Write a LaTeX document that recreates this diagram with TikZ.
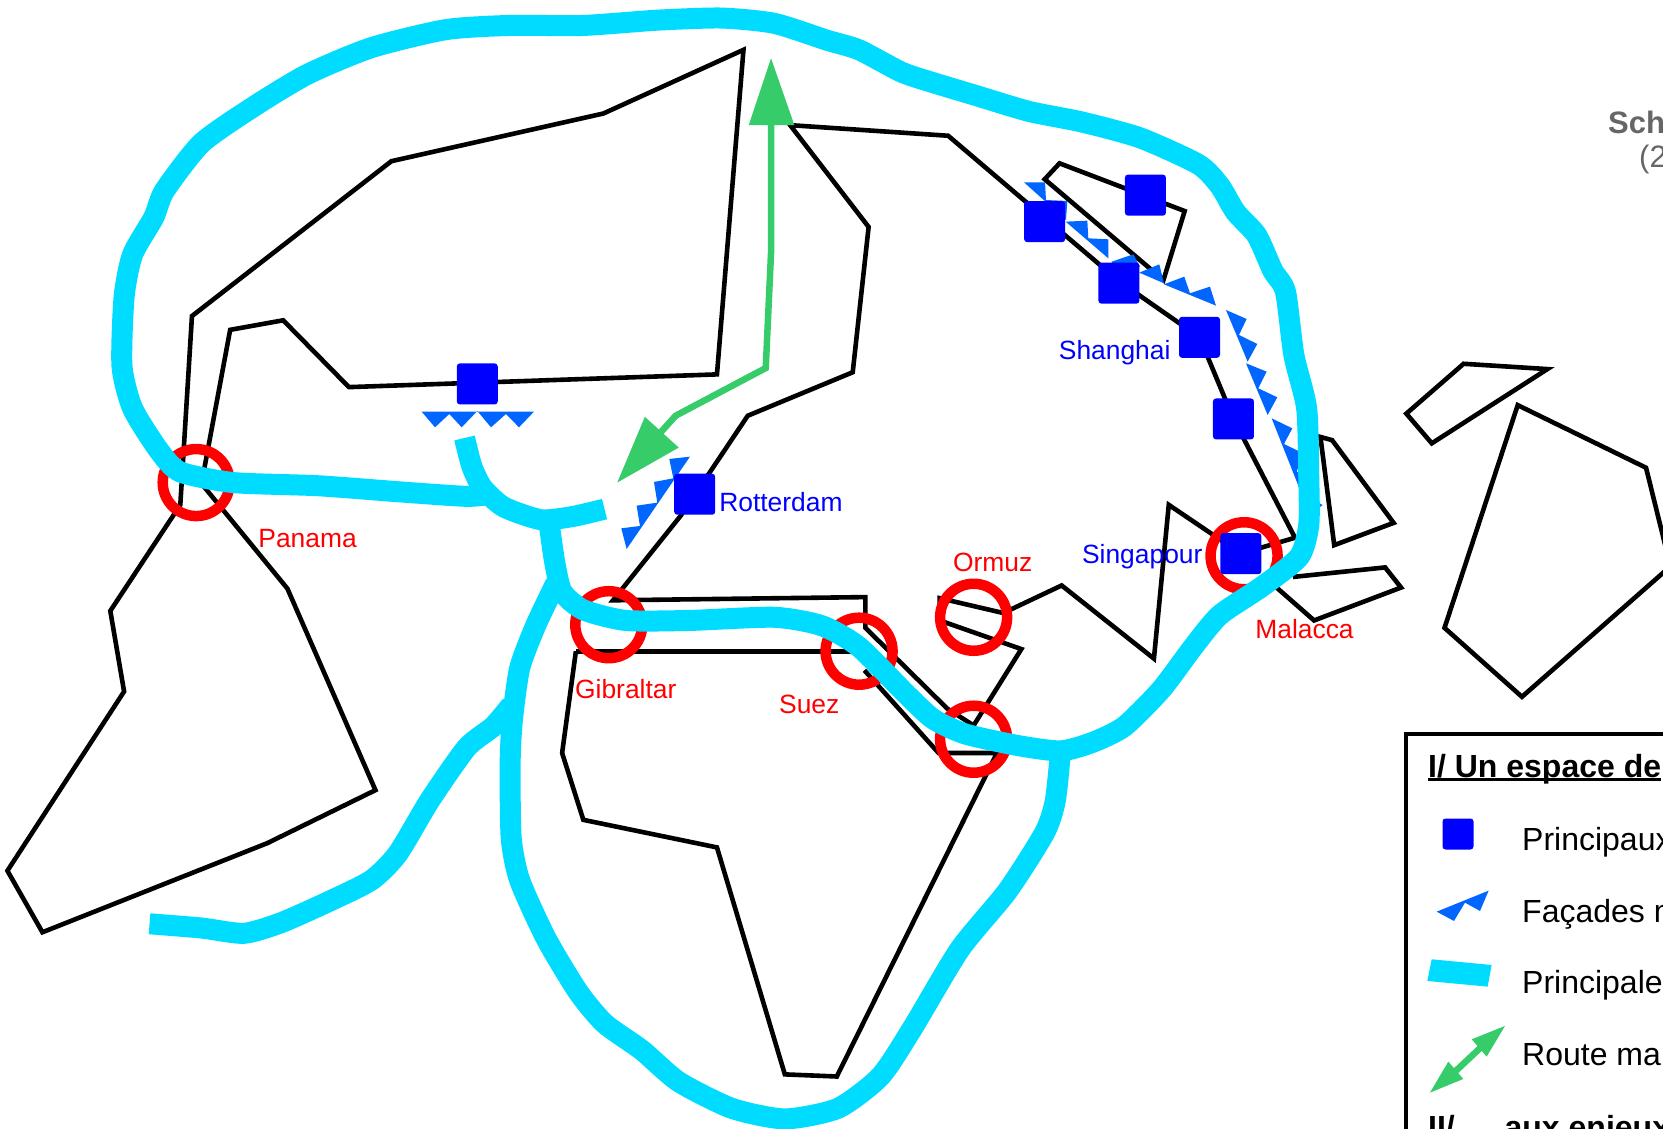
\documentclass[tikz,border=0pt]{standalone}
\usepackage{fontspec}
\setmainfont{Liberation Sans}
\definecolor{route}{RGB}{0,220,255}
\definecolor{facade}{RGB}{0,102,255}
\definecolor{seagreen}{RGB}{54,204,106}
\definecolor{port}{RGB}{0,0,255}
\definecolor{strait}{RGB}{255,0,0}
\definecolor{titlegrey}{RGB}{102,102,102}
\newcommand\ulbold[1]{\setbox0\hbox{#1}\rlap{\rule[-3.6pt]{\wd0}{2.4pt}}#1}
\tikzset{
  land/.style={draw=black,line width=4.6pt,miter limit=10},
  routeline/.style={draw=route,line width=21pt},
  facadeshape/.style={fill=facade},
  greenhead/.style={fill=seagreen},
  greenline/.style={draw=seagreen,line width=6.5pt},
  portbox/.style={fill=port,minimum size=41pt,inner sep=0pt,rounded corners=3pt},
  straitring/.style={draw=strait,line width=10.5pt},
  portlabel/.style={text=port,font=\fontsize{26.4}{30}\selectfont,inner sep=0pt},
  straitlabel/.style={text=strait,font=\fontsize{26.4}{30}\selectfont,inner sep=0pt},
  legendtext/.style={anchor=base west,inner sep=0pt,font=\fontsize{32}{38}\selectfont},
  legendhead/.style={anchor=base west,inner sep=0pt,font=\fontsize{32}{38}\selectfont\bfseries},
  titletext/.style={anchor=base west,inner sep=0pt,text=titlegrey,font=\fontsize{31}{36}\selectfont},
}
\begin{document}
\begin{tikzpicture}[x=1.0606pt,y=-1.0606pt]
\useasboundingbox (0,0) rectangle (1568,1063.6);
\clip (0,0) rectangle (1568,1063.6);
\fill[white] (0,0) rectangle (1568,1063.6);

% Land masses
\draw[land] (701,47) -- (569,107) -- (369,152) -- (181,298) -- (170,476) -- (104,576) -- (117,652) -- (7,821) -- (40,879) -- (252,795) -- (354,745) -- (271,555) -- (190,456) -- (217,311) -- (267,302) -- (329,365) -- (676,353) -- cycle;
\draw[land] (745,118) -- (894,128) -- (1055,265) -- (1131,318) -- (1163,395) -- (1221,507) -- (1170,522) -- (1102,476) -- (1088,621) -- (1001,552) -- (946,578) -- (886,564) -- (886,585) -- (963,612) -- (918,684) -- (893,668) -- (816,592) -- (816,563) -- (578,566) -- (642,486) -- (705,392) -- (804,351) -- (819,214) -- cycle;
\draw[land] (543,614) -- (816,614);
\draw[land] (543,614) -- (530,710) -- (550,773) -- (676,799) -- (740,1013) -- (789,1015) -- (940,710) -- (885,710) -- (815,632);
\draw[land] (985,169) -- (999,154) -- (1117,199) -- (1097,264) -- cycle;
\draw[land] (1326,390) -- (1380,343) -- (1459,348) -- (1350,418) -- cycle;
\draw[land] (1245,412) -- (1256,415) -- (1314,493) -- (1258,514) -- cycle;
\draw[land] (1219,544) -- (1306,535) -- (1321,554) -- (1239,585) -- (1190,542);
\draw[land] (1431,382) -- (1552,441) -- (1575,534) -- (1435,657) -- (1362,592) -- cycle;

% Strait rings
\draw[straitring] (185,455) circle [radius=33.5pt];
\draw[straitring] (1173,524) circle [radius=33.5pt];
\draw[straitring] (574,589) circle [radius=33.5pt];
\draw[straitring] (810,614) circle [radius=33.5pt];
\draw[straitring] (918,582) circle [radius=33.5pt];
\draw[straitring] (918,697) circle [radius=33.5pt];

% Sea fronts, in crop coordinates of the full-size image
\begin{scope}[shift={(400pt,-350pt)},x=.3333pt,y=-.3333pt]
\fill[facadeshape] (65,185) -- (105,232) -- (148,192) -- (185,232) -- (232,183) -- (273,232) -- (318,192) -- (357,232) -- (402,185) -- cycle;
\fill[facadeshape] (870,320) -- (808,327) -- (820,385) -- (762,396) -- (772,458) -- (710,467) -- (720,528) -- (664,535) -- (680,597) -- cycle;
\end{scope}
\begin{scope}[shift={(1000pt,-150pt)},x=.3333pt,y=-.3333pt]
\fill[facadeshape] (72,97) -- (135,97) -- (138,150) -- (202,153) -- (198,210) -- cycle;
\fill[facadeshape] (197,215) -- (262,212) -- (265,265) -- (325,268) -- (325,325) -- cycle;
\fill[facadeshape] (335,335) -- (400,313) -- (420,350) -- (340,345) -- cycle;
\fill[facadeshape] (418,368) -- (478,343) -- (492,400) -- cycle;
\fill[facadeshape] (492,403) -- (553,380) -- (570,430) -- (630,410) -- (648,467) -- cycle;
\fill[facadeshape] (678,480) -- (740,507) -- (717,555) -- (772,582) -- (743,635) -- cycle;
\fill[facadeshape] (738,640) -- (800,665) -- (775,715) -- (832,742) -- (803,795) -- cycle;
\end{scope}
\begin{scope}[shift={(1100pt,-400pt)},x=.3333pt,y=-.3333pt]
\fill[facadeshape] (515,55) -- (577,85) -- (552,132) -- (610,160) -- (590,215) -- (640,240) -- (620,290) -- (668,315) -- (630,345) -- cycle;
\end{scope}

% Green sea route
\draw[greenline] (727,115) -- (727,238) -- (722,347) -- (637,392) -- (610,422);
\fill[greenhead] (727,55) -- (706,118) -- (749,118) -- cycle;
\fill[greenhead] (582,455) -- (608,393) -- (640,422) -- cycle;

% Cyan maritime routes
\draw[routeline] plot[smooth,tension=.4] coordinates {(438,413) (445,440) (455,460) (475,478) (510,490) (540,487) (570,480)};
\draw[routeline] plot[smooth,tension=.4] coordinates {(462,466) (440,468) (380,464) (300,458) (220,455) (170,445) (150,425) (125,385) (115,345) (117,280) (125,240) (145,205) (155,180) (190,135) (240,100) (290,70) (350,45) (420,28) (480,24) (550,24) (620,19) (680,17) (730,22) (780,38) (810,47) (850,68) (880,78) (920,90) (970,105) (1020,115) (1075,130) (1130,155) (1150,175) (1165,200) (1185,222) (1200,255) (1212,275) (1220,335) (1232,385) (1234,450) (1234,495) (1225,525) (1190,553) (1150,580) (1125,610) (1095,650) (1060,685) (1030,700) (1000,708) (960,703) (910,692) (880,678) (855,655) (810,610) (775,590) (730,582) (650,585) (590,585) (550,575) (530,558) (523,530) (517,488)};
\draw[routeline] plot[smooth,tension=.4] coordinates {(524,550) (505,590) (490,630) (483,680) (481,720) (482,790) (490,830) (515,885) (545,935) (570,965) (605,990) (640,1020) (690,1045) (740,1055) (790,1045) (830,1015) (860,970) (905,895) (950,840) (985,785) (995,755) (1000,708)};
\draw[routeline] plot[smooth,tension=.4] coordinates {(482,665) (465,685) (440,705) (405,755) (375,805) (350,830) (310,850) (265,870) (230,880) (190,875) (141,871)};

% Ports
\node[portbox] (portA) at (450,362) {};
\node[portbox] (portB) at (985,209) {};
\node[portbox] (portC) at (1080,184) {};
\node[portbox] (portD) at (1055,267) {};
\node[portbox] (portE) at (1131,318) {};
\node[portbox] (portF) at (1163,395) {};
\node[portbox] (portG) at (1170,522) {};
\node[portbox] (portH) at (655,466) {};

% Labels
\node[portlabel,anchor=west] (rotterdam) at (678,473) {Rotterdam};
\node[portlabel] (shanghai) at (1051,332.5) {Shanghai};
\node[portlabel] (singapour) at (1077,525) {Singapour};
\node[straitlabel] (panama) at (290,508) {Panama};
\node[straitlabel] (malacca) at (1230,593) {Malacca};
\node[straitlabel] (ormuz) at (936,530) {Ormuz};
\node[straitlabel] (gibraltar) at (590,650) {Gibraltar};
\node[straitlabel] (suez) at (763,664) {Suez};

% Title and legend, in full-size image pixels
\begin{scope}[x=1pt,y=-1pt]
\node[titletext,font=\fontsize{31}{36}\selectfont\bfseries] (titleA) at (1608,134) {Sch};
\node[titletext] (titleB) at (1639,168) {(2};
\draw[black,line width=4pt] (1406,734) rectangle (1720,1200);
\node[legendhead] (legA) at (1428,777) {\ulbold{I/ Un espace de}};
\node[portbox,minimum size=31pt] (legPort) at (1458,834) {};
\node[legendtext] (legB) at (1522,850) {Principaux};
\node[legendtext] (legC) at (1522,922) {Façades m};
\node[legendtext] (legD) at (1522,993) {Principale};
\node[legendtext] (legE) at (1522,1065) {Route ma};
\node[legendhead] (legF) at (1428,1138) {\ulbold{II/ … aux enjeux}};
\end{scope}
\begin{scope}[shift={(1380pt,-720pt)},x=.3333pt,y=-.3333pt]
\fill[facadeshape] (170,575) -- (326,512) -- (300,573) -- (255,548) -- (222,603) -- cycle;
\fill[route] (155,718) -- (335,735) -- (323,800) -- (142,783) -- cycle;
\draw[seagreen,line width=6.5pt] (225,1055) -- (305,980);
\fill[greenhead] (375,918) -- (275,958) -- (320,1010) -- cycle;
\fill[greenhead] (150,1118) -- (205,1025) -- (250,1077) -- cycle;
\end{scope}
\end{tikzpicture}
\end{document}
